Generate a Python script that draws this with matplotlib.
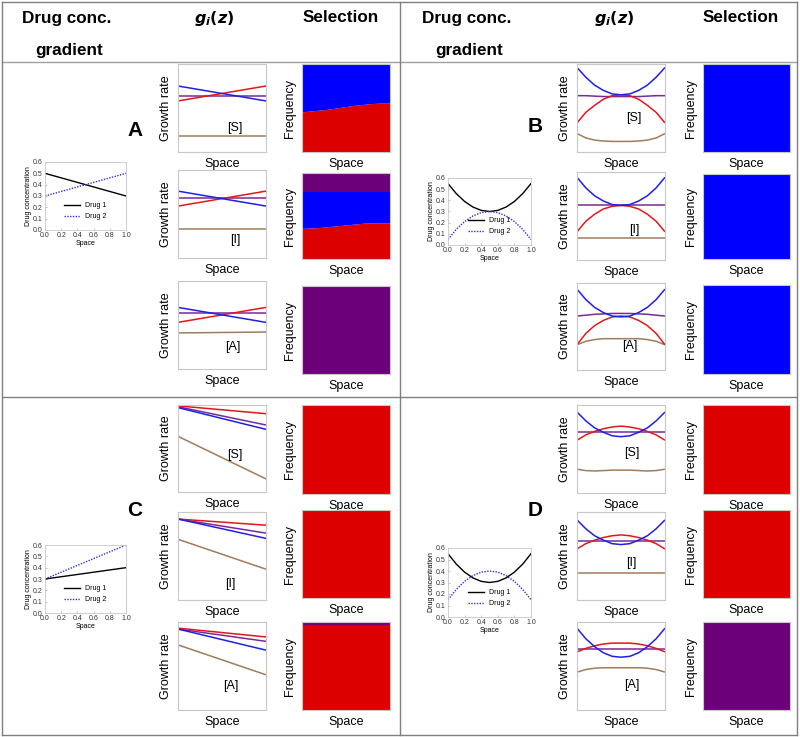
import numpy as np
import matplotlib
matplotlib.use("Agg")
import matplotlib.pyplot as plt
from matplotlib.lines import Line2D

plt.rcParams['font.family'] = ['Liberation Sans', 'DejaVu Sans']
plt.rcParams['mathtext.fontset'] = 'dejavusans'

W, H = 800, 737

# ---------------- data ----------------
space = [0.0, 0.1, 0.2, 0.3, 0.4, 0.5, 0.6, 0.7, 0.8, 0.9, 1.0]

# drug concentration gradients (Drug 1, Drug 2)
drugA_1 = [0.50, 0.48, 0.46, 0.44, 0.42, 0.40, 0.38, 0.36, 0.34, 0.32, 0.30]
drugA_2 = [0.30, 0.32, 0.34, 0.36, 0.38, 0.40, 0.42, 0.44, 0.46, 0.48, 0.50]
drugB_1 = [0.55, 0.46, 0.39, 0.34, 0.31, 0.30, 0.31, 0.34, 0.39, 0.46, 0.55]
drugB_2 = [0.05, 0.14, 0.21, 0.26, 0.29, 0.30, 0.29, 0.26, 0.21, 0.14, 0.05]
drugC_1 = [0.30, 0.31, 0.32, 0.33, 0.34, 0.35, 0.36, 0.37, 0.38, 0.39, 0.40]
drugC_2 = [0.30, 0.33, 0.36, 0.39, 0.42, 0.45, 0.48, 0.51, 0.54, 0.57, 0.60]
drugD_1 = [0.55, 0.46, 0.39, 0.34, 0.31, 0.30, 0.31, 0.34, 0.39, 0.46, 0.55]
drugD_2 = [0.15, 0.24, 0.31, 0.36, 0.39, 0.40, 0.39, 0.36, 0.31, 0.24, 0.15]

# growth rates g_i(z) (arbitrary units): blue, red, purple, brown
gA_S = dict(blue=[0.75, 0.58], red=[0.58, 0.75], purple=[0.635, 0.635], brown=[0.185, 0.185])
gA_I = dict(blue=[0.76, 0.59], red=[0.59, 0.76], purple=[0.68, 0.68], brown=[0.335, 0.335])
gA_A = dict(blue=[0.70, 0.53], red=[0.53, 0.70], purple=[0.64, 0.64], brown=[0.41, 0.42])
gB_S = dict(blue=[0.96, 0.85, 0.76, 0.70, 0.66, 0.65, 0.66, 0.70, 0.76, 0.85, 0.96],
            red=[0.33, 0.45, 0.53, 0.60, 0.64, 0.65, 0.64, 0.60, 0.53, 0.45, 0.33],
            purple=[0.64, 0.64, 0.635, 0.63, 0.63, 0.63, 0.63, 0.63, 0.635, 0.64, 0.64],
            brown=[0.21, 0.16, 0.135, 0.125, 0.12, 0.12, 0.12, 0.125, 0.135, 0.16, 0.21])
gB_I = dict(blue=[0.94, 0.82, 0.73, 0.67, 0.63, 0.62, 0.63, 0.67, 0.73, 0.82, 0.94],
            red=[0.32, 0.44, 0.52, 0.58, 0.61, 0.62, 0.61, 0.58, 0.52, 0.44, 0.32],
            purple=[0.62, 0.62],
            brown=[0.245, 0.245])
gB_A = dict(blue=[0.93, 0.81, 0.72, 0.66, 0.62, 0.61, 0.62, 0.66, 0.72, 0.81, 0.93],
            red=[0.29, 0.42, 0.51, 0.57, 0.61, 0.62, 0.61, 0.57, 0.51, 0.42, 0.29],
            purple=[0.62, 0.63, 0.64, 0.645, 0.65, 0.65, 0.65, 0.645, 0.64, 0.63, 0.62],
            brown=[0.29, 0.33, 0.35, 0.36, 0.36, 0.36, 0.36, 0.36, 0.35, 0.33, 0.29])
gC_S = dict(red=[0.99, 0.90], purple=[0.98, 0.77], blue=[0.97, 0.72], brown=[0.64, 0.15])
gC_I = dict(red=[0.92, 0.85], purple=[0.92, 0.76], blue=[0.92, 0.70], brown=[0.69, 0.35])
gC_A = dict(red=[0.93, 0.83], purple=[0.92, 0.78], blue=[0.92, 0.68], brown=[0.74, 0.40])
gD_S = dict(blue=[0.92, 0.82, 0.74, 0.69, 0.65, 0.64, 0.65, 0.69, 0.74, 0.82, 0.92],
            red=[0.60, 0.66, 0.70, 0.73, 0.75, 0.76, 0.75, 0.73, 0.70, 0.66, 0.60],
            purple=[0.69, 0.69],
            brown=[0.27, 0.255, 0.25, 0.255, 0.26, 0.26, 0.26, 0.255, 0.25, 0.255, 0.27])
gD_I = dict(blue=[0.91, 0.81, 0.73, 0.68, 0.64, 0.63, 0.64, 0.68, 0.73, 0.81, 0.91],
            red=[0.58, 0.64, 0.68, 0.71, 0.73, 0.74, 0.73, 0.71, 0.68, 0.64, 0.58],
            purple=[0.67, 0.67],
            brown=[0.31, 0.31])
gD_A = dict(blue=[0.93, 0.81, 0.72, 0.65, 0.61, 0.60, 0.61, 0.65, 0.72, 0.81, 0.93],
            red=[0.66, 0.70, 0.73, 0.75, 0.76, 0.76, 0.76, 0.75, 0.73, 0.70, 0.66],
            purple=[0.69, 0.69],
            brown=[0.43, 0.46, 0.475, 0.48, 0.48, 0.48, 0.48, 0.48, 0.475, 0.46, 0.43])

# selection: frequencies (red, blue, purple) stacked from bottom
selA_S = dict(red=[0.45, 0.46, 0.47, 0.48, 0.495, 0.51, 0.525, 0.535, 0.545, 0.55, 0.55],
              blue=[0.55, 0.54, 0.53, 0.52, 0.505, 0.49, 0.475, 0.465, 0.455, 0.45, 0.45],
              purple=[0.0] * 11)
selA_I = dict(red=[0.35, 0.355, 0.36, 0.37, 0.38, 0.39, 0.40, 0.41, 0.415, 0.415, 0.415],
              blue=[0.43, 0.425, 0.42, 0.41, 0.40, 0.39, 0.38, 0.37, 0.365, 0.365, 0.365],
              purple=[0.22] * 11)
selA_A = dict(red=[0.0] * 11, blue=[0.0] * 11, purple=[1.0] * 11)
selB = dict(red=[0.0] * 11, blue=[1.0] * 11, purple=[0.0] * 11)
selC_S = dict(red=[0.99] * 11, blue=[0.0] * 11, purple=[0.01] * 11)
selC_I = dict(red=[1.0] * 11, blue=[0.0] * 11, purple=[0.0] * 11)
selC_A = dict(red=[0.97] * 11, blue=[0.0] * 11, purple=[0.03] * 11)
selD_S = dict(red=[1.0] * 11, blue=[0.0] * 11, purple=[0.0] * 11)
selD_I = dict(red=[1.0] * 11, blue=[0.0] * 11, purple=[0.0] * 11)
selD_A = dict(red=[0.0] * 11, blue=[0.0] * 11, purple=[1.0] * 11)

row_labels = ['[S]', '[I]', '[A]']
panel_labels = ['A', 'B', 'C', 'D']

# ---------------- styling ----------------
LINE_COL = dict(blue='#1f1fe8', red='#e01818', purple='#7a2a96', brown='#a07c5c')
FILL_COL = dict(red='#dd0000', blue='#0000ff', purple='#6c0078')
SPINE = '#c8c8c8'

fig = plt.figure(figsize=(W / 100, H / 100), dpi=100)


def px_axes(x0, y0, x1, y1):
    return fig.add_axes([x0 / W, 1 - y1 / H, (x1 - x0) / W, (y1 - y0) / H])


def style_box(ax):
    for s in ax.spines.values():
        s.set_color(SPINE)
        s.set_linewidth(0.8)
    ax.set_xticks([])
    ax.set_yticks([])


def growth(ax, d, lab, lab_pos):
    for k in ['brown', 'purple', 'red', 'blue']:
        v = d[k]
        xs = np.linspace(0, 1, len(v))
        ax.plot(xs, v, color=LINE_COL[k], lw=1.1, solid_capstyle='butt')
    ax.set_xlim(0, 1)
    ax.set_ylim(0, 1)
    style_box(ax)
    ax.set_xlabel('Space', fontsize=9, labelpad=4)
    ax.set_ylabel('Growth rate', fontsize=9, labelpad=4)
    ax.text(lab_pos[0], lab_pos[1], lab, fontsize=9, ha='center', va='center',
            transform=ax.transAxes)


def selection(ax, d):
    ax.stackplot(space, d['red'], d['blue'], d['purple'],
                 colors=[FILL_COL['red'], FILL_COL['blue'], FILL_COL['purple']],
                 linewidth=0)
    ax.set_xlim(0, 1)
    ax.set_ylim(0, 1)
    style_box(ax)
    ax.set_xlabel('Space', fontsize=9, labelpad=4)
    ax.set_ylabel('Frequency', fontsize=9, labelpad=4)


def drug(ax, d1, d2):
    ax.plot(space, d1, color='black', lw=1.0, label='Drug 1')
    ax.plot(space, d2, color='#3030e0', lw=1.0, ls=(0, (1, 1)), label='Drug 2')
    ax.set_xlim(0, 1)
    ax.set_ylim(0, 0.6)
    ax.set_xticks([0, 0.2, 0.4, 0.6, 0.8, 1.0])
    ax.set_yticks([0, 0.1, 0.2, 0.3, 0.4, 0.5, 0.6])
    ax.xaxis.set_major_formatter(matplotlib.ticker.FormatStrFormatter('%.1f'))
    ax.yaxis.set_major_formatter(matplotlib.ticker.FormatStrFormatter('%.1f'))
    ax.tick_params(labelsize=5, length=1.5, width=0.5, color='#aaaaaa', pad=1.5,
                   direction='in', labelcolor='#333333')
    for s in ax.spines.values():
        s.set_color(SPINE)
        s.set_linewidth(0.6)
    ax.set_xlabel('Space', fontsize=5, labelpad=1)
    ax.set_ylabel('Drug concentration', fontsize=5, labelpad=1)
    ax.legend(loc='lower center', bbox_to_anchor=(0.5, 0.05), fontsize=5, frameon=False,
              handlelength=2.2, labelspacing=0.6)


# ---------------- layout (pixel boxes) ----------------
panels = [
    dict(label='A', lab_xy=(135, 130), drug=(45, 162, 126, 230), drugs=(drugA_1, drugA_2),
         gx=(178, 266), sx=(302, 390),
         grows=[(64, 152), (170, 258), (281, 369)],
         srows=[(64, 152), (173, 259), (286, 374)],
         g=[gA_S, gA_I, gA_A], s=[selA_S, selA_I, selA_A],
         lpos=[(0.64, 0.27), (0.65, 0.21), (0.62, 0.25)]),
    dict(label='B', lab_xy=(535, 127), drug=(448, 178, 531, 245), drugs=(drugB_1, drugB_2),
         gx=(577, 665), sx=(703, 790),
         grows=[(64, 152), (172, 260), (283, 370)],
         srows=[(64, 152), (174, 259), (285, 374)],
         g=[gB_S, gB_I, gB_A], s=[selB, selB, selB],
         lpos=[(0.65, 0.39), (0.65, 0.34), (0.60, 0.28)]),
    dict(label='C', lab_xy=(135, 510), drug=(45, 545, 126, 613), drugs=(drugC_1, drugC_2),
         gx=(178, 266), sx=(302, 390),
         grows=[(405, 492), (512, 600), (622, 710)],
         srows=[(405, 494), (510, 598), (622, 710)],
         g=[gC_S, gC_I, gC_A], s=[selC_S, selC_I, selC_A],
         lpos=[(0.64, 0.43), (0.60, 0.18), (0.60, 0.27)]),
    dict(label='D', lab_xy=(535, 510), drug=(448, 548, 531, 617), drugs=(drugD_1, drugD_2),
         gx=(577, 665), sx=(703, 790),
         grows=[(405, 493), (512, 600), (622, 710)],
         srows=[(405, 494), (510, 598), (622, 710)],
         g=[gD_S, gD_I, gD_A], s=[selD_S, selD_I, selD_A],
         lpos=[(0.62, 0.45), (0.62, 0.42), (0.62, 0.28)]),
]

for p in panels:
    fig.text(p['lab_xy'][0] / W, 1 - p['lab_xy'][1] / H, p['label'], fontsize=15,
             fontweight='bold', ha='center', va='center')
    x0, y0, x1, y1 = p['drug']
    drug(px_axes(x0, y0, x1, y1), *p['drugs'])
    for i in range(3):
        gy0, gy1 = p['grows'][i]
        growth(px_axes(p['gx'][0], gy0, p['gx'][1], gy1), p['g'][i], row_labels[i], p['lpos'][i])
        sy0, sy1 = p['srows'][i]
        selection(px_axes(p['sx'][0], sy0, p['sx'][1], sy1), p['s'][i])

# headers
for off in [0, 400]:
    fig.text((67 + off) / W, 1 - 18 / H, 'Drug conc.', fontsize=12.3, fontweight='bold',
             ha='center', va='center')
    fig.text((69 + off) / W, 1 - 50 / H, 'gradient', fontsize=12.3, fontweight='bold',
             ha='center', va='center')
    fig.text((214 + off) / W, 1 - 18 / H, r'$\mathbfit{g}_{\mathbfit{i}}\mathbf{(}\mathbfit{z}\mathbf{)}$',
             fontsize=11.5, ha='center', va='center')
    fig.text((341 + off) / W, 1 - 18 / H, 'Selection', fontsize=12.3, fontweight='bold',
             ha='center', va='center')

# table lines
def hline(y, x0=2, x1=797, c='#808080', lw=1.0):
    fig.add_artist(Line2D([x0 / W, x1 / W], [1 - y / H, 1 - y / H], color=c, lw=lw))


def vline(x, y0=2, y1=735, c='#808080', lw=1.0):
    fig.add_artist(Line2D([x / W, x / W], [1 - y0 / H, 1 - y1 / H], color=c, lw=lw))

hline(2)
hline(62, c='#a0a0a0')
hline(397)
hline(735)
vline(2)
vline(400)
vline(797)

fig.savefig('out.png', dpi=100)
